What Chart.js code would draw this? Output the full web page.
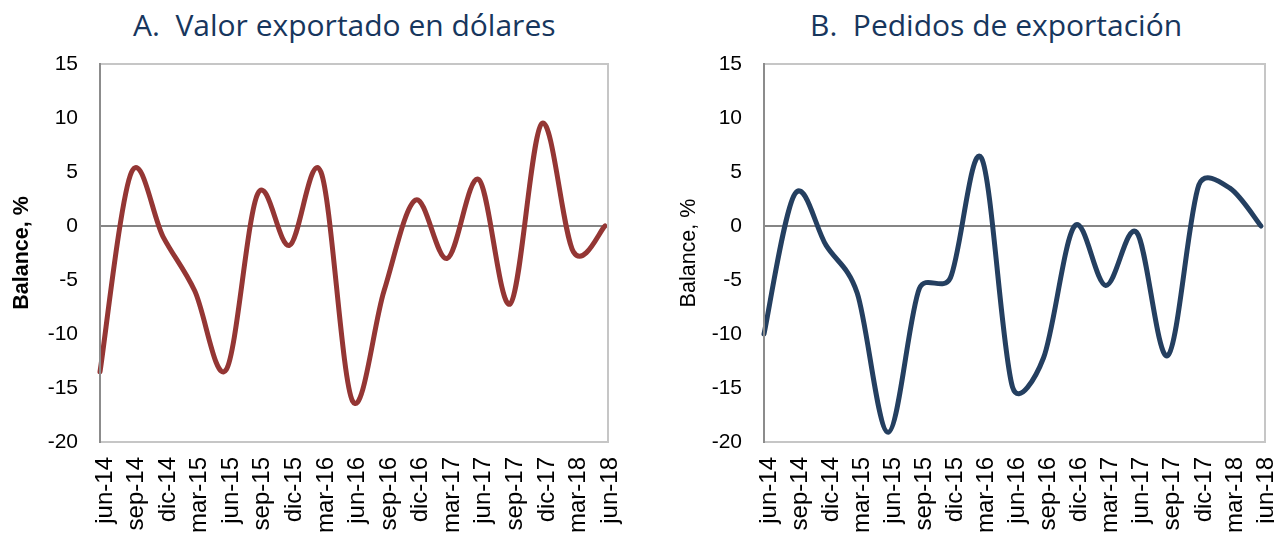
<!DOCTYPE html>
<html>
<head>
<meta charset="utf-8">
<script src="https://cdn.jsdelivr.net/npm/chart.js@4.4.1/dist/chart.umd.min.js"></script>
<style>
  html, body { margin: 0; padding: 0; background: #fff; }
  body { width: 1274px; height: 534px; position: relative; overflow: hidden; }
  .panel { position: absolute; top: 0; height: 534px; }
  .title { position: absolute; top: 10px; font-family: "Open Sans", "Liberation Sans", sans-serif; font-size: 30px; line-height: 30px; color: #17365d; white-space: pre; }
</style>
</head>
<body>
<div class="title" style="left:133px">A.  Valor exportado en dólares</div>
<div class="title" style="left:810px">B.  Pedidos de exportación</div>
<div class="panel" style="left:0px;width:660px"><canvas id="chartA" width="660" height="534"></canvas></div>
<div class="panel" style="left:670px;width:650px"><canvas id="chartB" width="650" height="534"></canvas></div>
<script>
// ---- data ----
const categories = ['jun-14','sep-14','dic-14','mar-15','jun-15','sep-15','dic-15','mar-16','jun-16','sep-16','dic-16','mar-17','jun-17','sep-17','dic-17','mar-18','jun-18'];
const valorExportado = [-13.5, 5.0, -1.0, -6.0, -13.3, 3.0, -1.8, 5.0, -16.2, -6.0, 2.4, -3.0, 4.3, -7.2, 9.5, -2.4, 0];
const pedidosExportacion = [-10.0, 3.0, -1.8, -6.2, -19.1, -5.8, -4.8, 6.3, -14.9, -12.2, 0.0, -5.5, -0.6, -12.0, 3.8, 3.5, 0];
const yMin = -20, yMax = 15, yStep = 5;
const yAxisTitle = 'Balance, %';

// Excel-like smoothing: Catmull-Rom control arms (1/6 of the neighbour chord),
// shortened to at most half the segment length, computed from the pixel
// positions that the library's scales gave to each point.
const excelSmooth = {
  id: 'excelSmooth',
  beforeDatasetDraw(chart, args) {
    const meta = args.meta;
    meta.dataset.updateControlPoints(chart.chartArea, 'x');
    const pts = meta.data, n = pts.length;
    const dist = (p, q) => Math.hypot(q.x - p.x, q.y - p.y);
    for (let i = 0; i < n; i++) {
      const p = pts[i], a = pts[Math.max(i - 1, 0)], b = pts[Math.min(i + 1, n - 1)];
      const dx = b.x - a.x, dy = b.y - a.y, dab = Math.hypot(dx, dy) || 1;
      const fin = Math.min(1 / 6, dist(a, p) / (2 * dab));
      const fout = Math.min(1 / 6, dist(p, b) / (2 * dab));
      p.cp1x = p.x - dx * fin; p.cp1y = p.y - dy * fin;
      p.cp2x = p.x + dx * fout; p.cp2y = p.y + dy * fout;
    }
  }
};

const frame = {
  id: 'frame',
  afterDraw(chart, args, opts) {
    const { ctx, chartArea: a } = chart;
    ctx.save();
    ctx.lineWidth = 2;
    ctx.strokeStyle = '#c6c6c6';
    ctx.beginPath();
    ctx.moveTo(a.left, a.top);
    ctx.lineTo(a.right + opts.extra, a.top);
    ctx.lineTo(a.right + opts.extra, a.bottom);
    ctx.lineTo(a.left, a.bottom);
    ctx.stroke();
    ctx.strokeStyle = '#8c8c8c';
    ctx.beginPath();
    ctx.moveTo(a.left, a.top - 1);
    ctx.lineTo(a.left, a.bottom + 1);
    ctx.stroke();
    ctx.restore();
  }
};

function makeChart(id, values, color, boldTitle, yWidth, padRight, titlePad, extra) {
  return new Chart(document.getElementById(id), {
    type: 'line',
    data: {
      labels: categories,
      datasets: [{ data: values, borderColor: color, borderWidth: 5, pointRadius: 0, tension: 0.4, fill: false, clip: false, borderCapStyle: 'round', borderJoinStyle: 'round' }]
    },
    options: {
      responsive: false,
      animation: false,
      layout: { padding: { top: 64, right: padRight, left: 0, bottom: 0 } },
      plugins: { legend: { display: false }, tooltip: { enabled: false }, frame: { extra } },
      scales: {
        x: {
          offset: false,
          grid: { display: false, drawTicks: false },
          border: { display: false },
          ticks: { autoSkip: false, minRotation: 90, maxRotation: 90, padding: 15, labelOffset: 5, color: '#000', font: { family: 'Liberation Sans', size: 24 } },
          afterFit: s => { s.height = 92; }
        },
        y: {
          min: yMin, max: yMax,
          grid: { drawTicks: false, lineWidth: 2, color: c => (c.tick && c.tick.value === 0) ? '#858585' : 'rgba(0,0,0,0)' },
          border: { display: false },
          ticks: { stepSize: yStep, padding: 22, color: '#000', font: { family: 'Liberation Sans', size: 21 } },
          title: { display: true, text: yAxisTitle, color: '#000', padding: { top: titlePad, bottom: 0 }, font: { family: 'Liberation Sans', size: 21.5, weight: boldTitle ? 'bold' : 'normal' } },
          afterFit: s => { s.width = yWidth; }
        }
      }
    },
    plugins: [excelSmooth, frame]
  });
}

makeChart('chartA', valorExportado, '#943634', true, 100, 55, 9, 3);
makeChart('chartB', pedidosExportacion, '#243f60', false, 94, 59, 6, 4);
</script>
</body>
</html>
